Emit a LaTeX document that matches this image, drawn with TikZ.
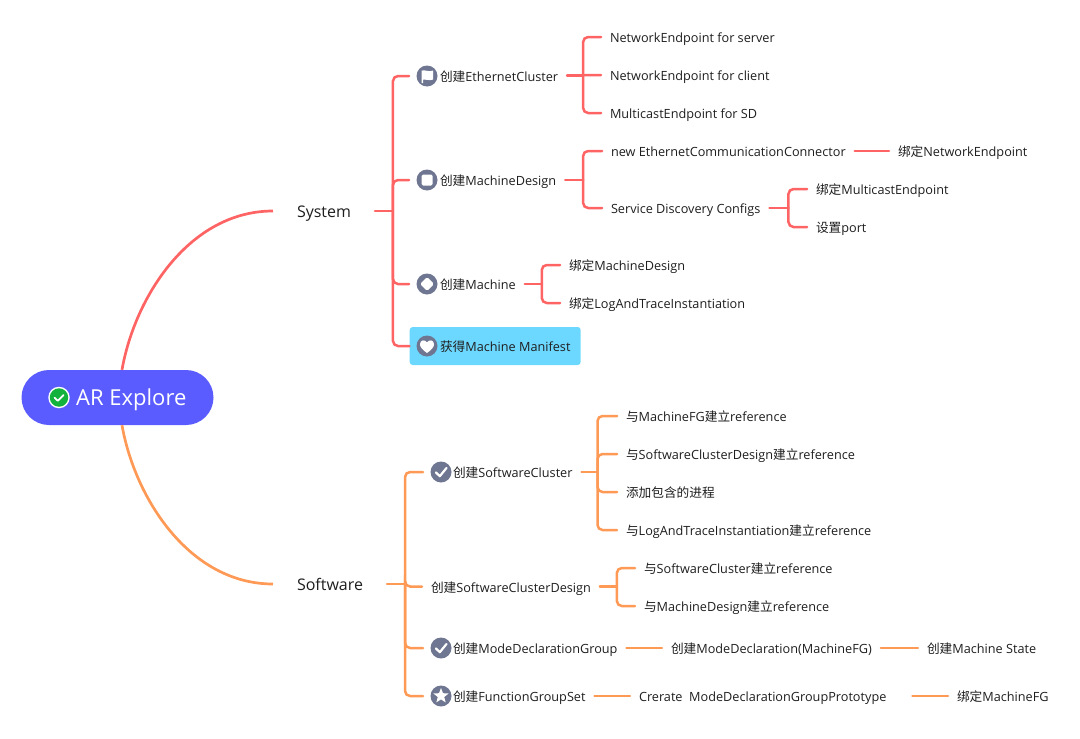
\documentclass[tikz,border=0pt]{standalone}
\usepackage{fontspec}
\setmainfont{Open Sans}
\newfontfamily\cjkf{Noto Sans CJK SC}
\newcommand\zh[1]{{\cjkf #1}}
\definecolor{redl}{HTML}{FF6464}
\definecolor{orgl}{HTML}{FF9A56}
\definecolor{icong}{HTML}{6E7691}
\definecolor{rootb}{HTML}{5B5CFF}
\definecolor{manif}{HTML}{6DD8FF}
\definecolor{okgreen}{HTML}{12B23C}
\definecolor{txt}{HTML}{1E1E1E}
\tikzset{
  lbl/.style={anchor=west,inner sep=0pt,outer xsep=9pt,text height=13pt,text depth=2pt,font=\fontsize{12.68}{14}\selectfont,text=txt},
  topic/.style={anchor=west,inner sep=0pt,outer xsep=24pt,text height=15pt,text depth=3pt,font=\fontsize{16}{18}\selectfont,text=txt},
  ico/.style={circle,fill=icong,minimum size=21pt,inner sep=0pt,outer sep=7.5pt},
  wire/.style={line width=2.5pt,rounded corners=5pt,line cap=round},
  syw/.style={wire,draw=redl},
  sfw/.style={wire,draw=orgl},
  glyph/.style={white,line join=round,line cap=round}
}
\newcommand\brk[4]{% style, parent, dx, children
  \draw[#1] (#2.east) -- ++(#3,0) coordinate (j#2);
  \foreach \c in {#4}{\draw[#1] (j#2) |- (\c.west);}}
\begin{document}
\begin{tikzpicture}[x=1pt,y=-1pt]
\useasboundingbox (0,0) rectangle (1080,739);
% root
\node[rounded corners=27.5pt,fill=rootb,minimum width=192pt,minimum height=55pt,inner sep=0pt] (root) at (117.5,397.5) {};
\node[circle,fill=white,minimum size=21.5pt,inner sep=0pt] (rootic) at (59,397.5) {};
\node[circle,fill=okgreen,minimum size=18.5pt,inner sep=0pt] (rootin) at (59,397.5) {};
\draw[glyph,line width=1.7pt] (54.6,397.8) -- (57.8,400.8) -- (63.6,395);
\node[anchor=west,inner sep=0pt,text=white,text height=20pt,text depth=5pt,font=\fontsize{22}{24}\selectfont] (roott) at (76,397.5) {AR Explore};
% topics
\node[topic] (system) at (273,211) {System};
\node[topic] (software) at (273,584) {Software};
\draw[redl,line width=2.7pt] ([xshift=4.5pt]root.north) .. controls (135,296) and (190,211) .. (system.west);
\draw[orgl,line width=2.7pt] ([xshift=4.5pt]root.south) .. controls (135,499) and (190,584) .. (software.west);
% system level 2
\node[ico] (ic1) at (427,76) {};
\node[lbl] (ec) at (431,75.5) {\zh{创建}EthernetCluster};
\node[ico] (ic2) at (427,180) {};
\node[lbl] (md) at (431,180) {\zh{创建}MachineDesign};
\node[ico] (ic3) at (427,284) {};
\node[lbl] (mc) at (431,284) {\zh{创建}Machine};
\node[anchor=west,fill=manif,rounded corners=3pt,minimum width=171pt,minimum height=38pt,inner sep=0pt] (mfbox) at (409.5,346) {};
\node[ico] (ic4) at (427,346) {};
\node[lbl] (mf) at (431,346) {\zh{获得}Machine Manifest};
% icons
\fill[glyph] (421.6,70.6) .. controls (425,69.4) and (428,72.2) .. (433,70.6) -- (433,79.6) .. controls (428,81.2) and (426,78.6) .. (423.2,79.6) -- (423.2,83) -- (421.6,83) -- cycle;
\fill[glyph,rounded corners=1.5pt] (421.5,174.5) rectangle (432.5,185.5);
\fill[glyph,rounded corners=1.5pt] (427,277) -- (434,284) -- (427,291) -- (420,284) -- cycle;
\fill[glyph] (427,353) .. controls (422,349.5) and (420,347) .. (420,344.2) .. controls (420,340) and (425,339) .. (427,342.4) .. controls (429,339) and (434,340) .. (434,344.2) .. controls (434,347) and (432,349.5) .. (427,353) -- cycle;
% system connectors
\brk{syw}{system}{18}{ic1,ic2,ic3,mfbox}
% leaves
\node[lbl] (a1) at (601,37) {NetworkEndpoint for server};
\node[lbl] (a2) at (601,75) {NetworkEndpoint for client};
\node[lbl] (a3) at (601,113) {MulticastEndpoint for SD};
\draw[syw] (ec.east) -- (a2.west);
\brk{syw}{ec}{16}{a1,a3}
\node[lbl] (b1) at (602,151) {new EthernetCommunicationConnector};
\node[lbl] (b2) at (602,208) {Service Discovery Configs};
\brk{syw}{md}{18}{b1,b2}
\node[lbl] (b3) at (889,151) {\zh{绑定}NetworkEndpoint};
\draw[syw] (b1.east) -- (b3.west);
\node[lbl] (b4) at (807,189) {\zh{绑定}MulticastEndpoint};
\node[lbl] (b5) at (807,227) {\zh{设置}port};
\brk{syw}{b2}{19}{b4,b5}
\node[lbl] (c1) at (560,265) {\zh{绑定}MachineDesign};
\node[lbl] (c2) at (560,303) {\zh{绑定}LogAndTraceInstantiation};
\brk{syw}{mc}{17}{c1,c2}
% software level 2
\node[ico] (ic5) at (441,472) {};
\node[lbl] (sc) at (444,472) {\zh{创建}SoftwareCluster};
\node[lbl] (scd) at (422,586.5) {\zh{创建}SoftwareClusterDesign};
\node[ico] (ic6) at (441,648) {};
\node[lbl] (mdg) at (444,648) {\zh{创建}ModeDeclarationGroup};
\node[ico] (ic7) at (441,696) {};
\node[lbl] (fgs) at (444,696) {\zh{创建}FunctionGroupSet};
\draw[glyph,line width=2.2pt] (436,472.5) -- (439.8,476.2) -- (446.5,468);
\draw[glyph,line width=2.2pt] (436,648.5) -- (439.8,652.2) -- (446.5,644);
\fill[glyph] (441,688) -- (443,693.2) -- (448.6,693.5) -- (444.2,697) -- (445.7,702.4) -- (441,699.4) -- (436.3,702.4) -- (437.8,697) -- (433.4,693.5) -- (439,693.2) -- cycle;
\brk{sfw}{software}{18}{ic5,scd,ic6,ic7}
\node[lbl] (d1) at (617,416) {\zh{与}MachineFG\zh{建立}reference};
\node[lbl] (d2) at (617,454) {\zh{与}SoftwareClusterDesign\zh{建立}reference};
\node[lbl] (d3) at (617,492) {\zh{添加包含的进程}};
\node[lbl] (d4) at (617,530) {\zh{与}LogAndTraceInstantiation\zh{建立}reference};
\brk{sfw}{sc}{16}{d1,d2,d3,d4}
\node[lbl] (e1) at (635,568) {\zh{与}SoftwareCluster\zh{建立}reference};
\node[lbl] (e2) at (635,606) {\zh{与}MachineDesign\zh{建立}reference};
\brk{sfw}{scd}{17}{e1,e2}
\node[lbl] (f1) at (662,648) {\zh{创建}ModeDeclaration(MachineFG)};
\node[lbl] (f2) at (918,648) {\zh{创建}Machine State};
\draw[sfw] (mdg.east) -- (f1.west);
\draw[sfw] (f1.east) -- (f2.west);
\node[lbl] (g1) at (630,696) {Crerate\ \ ModeDeclarationGroupPrototype};
\node[lbl] (g2) at (948,696) {\zh{绑定}MachineFG};
\draw[sfw] (fgs.east) -- (g1.west);
\draw[sfw] ([xshift=17pt]g1.east) -- (g2.west);
\end{tikzpicture}
\end{document}
